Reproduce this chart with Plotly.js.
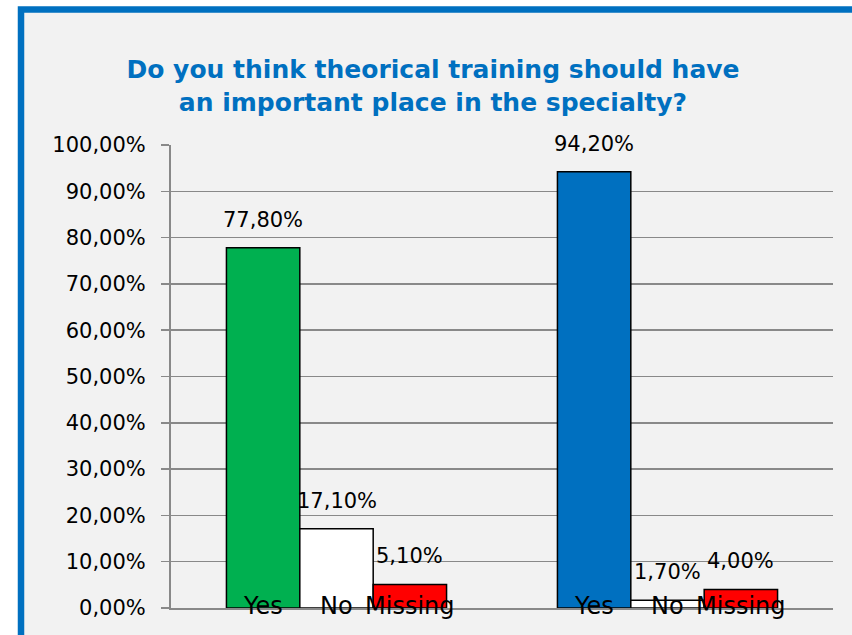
<!DOCTYPE html>
<html>
<head>
<meta charset="utf-8">
<script src="https://cdn.plot.ly/plotly-3.0.1.min.js"></script>
<style>html,body{margin:0;padding:0;background:#fff;}#chart{width:852px;height:635px;}</style>
</head>
<body>
<div id="chart"></div>
<script>
// ---- data ----
var groups = ["Group 1", "Group 2"];
var answers = ["Yes", "No", "Missing"];
var yesValues = [77.8, 94.2];
var noValues = [17.1, 1.7];
var missingValues = [5.1, 4.0];
var valueLabels = [["77,80%", "94,20%"], ["17,10%", "1,70%"], ["5,10%", "4,00%"]];
var yTickVals = [0, 10, 20, 30, 40, 50, 60, 70, 80, 90, 100];
var yTickText = ["0,00%", "10,00%", "20,00%", "30,00%", "40,00%", "50,00%", "60,00%", "70,00%", "80,00%", "90,00%", "100,00%"];
var titleLine1 = "Do you think theorical training should have";
var titleLine2 = "an important place in the specialty?";

// ---- styles ----
var yesColors = ["#00B050", "#0070C0"];
var noColor = "#FFFFFF";
var missingColor = "#FF0000";
var gridColor = "#898989";
var font = "DejaVu Sans";

var series = [yesValues, noValues, missingValues];
var colors = [yesColors, noColor, missingColor];

var traces = series.map(function (vals, i) {
  return {
    type: "bar",
    name: answers[i],
    x: groups,
    y: vals,
    marker: { color: colors[i], line: { color: "#000000", width: 1.5 } },
    hoverinfo: "skip"
  };
});

var marginL = 171, marginR = 19, marginT = 145, marginB = 27;
var W = 852, H = 635;
var plotW = W - marginL - marginR;
var bargap = 0.335;
var barPx = plotW / groups.length * (1 - bargap) / answers.length;

var annotations = [];
series.forEach(function (vals, i) {
  vals.forEach(function (v, g) {
    annotations.push({
      xref: "x", yref: "y", x: groups[g], y: v,
      xshift: (i - 1) * barPx, yanchor: "bottom", yshift: 14,
      text: valueLabels[i][g], showarrow: false,
      font: { family: font, size: 21, color: "#000" }
    });
    annotations.push({
      xref: "x", yref: "y", x: groups[g], y: 0,
      xshift: (i - 1) * barPx, yanchor: "middle", yshift: 2,
      text: answers[i], showarrow: false,
      font: { family: font, size: 24, color: "#000" }
    });
  });
});

var titleFont = { family: font, size: 25, color: "#0070C0", weight: "bold" };

var layout = {
  width: W, height: H,
  margin: { l: marginL, r: marginR, t: marginT, b: marginB, pad: 0 },
  paper_bgcolor: "#FFFFFF",
  plot_bgcolor: "rgba(0,0,0,0)",
  showlegend: false,
  barmode: "group",
  bargap: bargap,
  bargroupgap: 0,
  title: {
    text: titleLine1 + "<br>" + titleLine2,
    font: titleFont,
    x: 433 / W, xanchor: "center", xref: "container",
    y: 1 - 78 / H, yanchor: "middle", yref: "container"
  },
  xaxis: {
    showticklabels: false, showgrid: false, zeroline: false,
    showline: true, linecolor: gridColor, linewidth: 1.5, ticks: ""
  },
  yaxis: {
    range: [0, 100], tickvals: yTickVals, ticktext: yTickText,
    showgrid: true, gridcolor: gridColor, gridwidth: 1.5,
    zeroline: false, showline: true, linecolor: gridColor, linewidth: 2,
    ticks: "outside", ticklen: 8, tickcolor: gridColor, tickwidth: 1.5,
    ticklabelstandoff: 11,
    tickfont: { family: font, size: 21, color: "#000" }
  },
  annotations: annotations,
  shapes: [{
    type: "rect", xref: "paper", yref: "paper", layer: "below",
    x0: (21 - marginL) / plotW, x1: 1.2,
    y0: -0.3, y1: (608 - 9.5) / (H - marginT - marginB),
    fillcolor: "#F2F2F2", line: { color: "#0070C0", width: 6.5 }
  }]
};

Plotly.newPlot("chart", traces, layout, { displayModeBar: false, staticPlot: true });
</script>
</body>
</html>
